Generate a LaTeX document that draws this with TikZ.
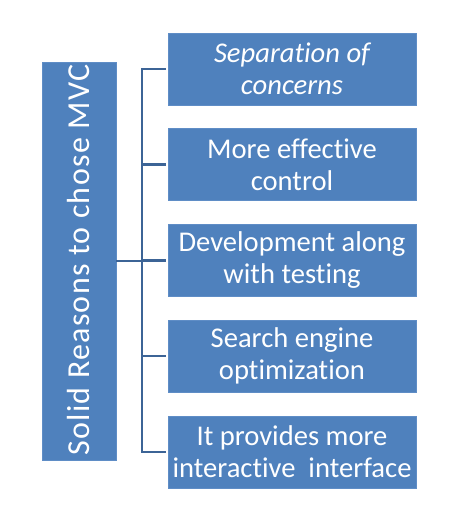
\documentclass[tikz,border=0pt]{standalone}
\usepackage{fontspec}
\setmainfont[Ligatures={NoCommon}]{Carlito}
\newfontfamily\sidefont[Ligatures={NoCommon},LetterSpace=4]{Carlito}
\begin{document}
\begin{tikzpicture}[x=1pt,y=-1pt,
  box/.style={draw=boxedge,fill=boxfill,line width=0.8pt,text=white,align=center,
    minimum width=248pt,minimum height=72pt,inner sep=0pt,
    font=\fontsize{28.6}{32}\selectfont},
  side/.style={draw=boxedge,fill=boxfill,line width=0.8pt,text=white,
    minimum width=74pt,minimum height=398pt,inner sep=0pt},
  conn/.style={draw=connblue,line width=2.8pt}]
\definecolor{boxfill}{HTML}{4F81BD}
\definecolor{boxedge}{HTML}{5F8DC6}
\definecolor{connblue}{HTML}{3C6496}
\useasboundingbox (0,0) rectangle (450,518);
\fill[white] (0,0) rectangle (450,518);
\node[side] (L) at (79,261) {};
\node[rotate=90,text=white,font=\sidefont\fontsize{32}{36}\selectfont] (Lt) at (79,260) {Solid Reasons to chose MVC};
\node[box] (b1) at (292,69) {\itshape Separation of\\\itshape concerns};
\node[box] (b2) at (292,164.5) {More effective\\control};
\node[box] (b3) at (292,260.5) {Development along\\with testing};
\node[box] (b4) at (292,356) {Search engine\\optimization};
\node[box] (b5) at (292,452) {It provides more\\interactive\ \ interface};
\coordinate (hub) at (142,261);
\draw[conn] (L.east) -- (hub);
\foreach \i in {1,...,5}{
  \draw[conn,shorten >=2pt] (hub) |- (b\i.west);
}
\end{tikzpicture}
\end{document}
